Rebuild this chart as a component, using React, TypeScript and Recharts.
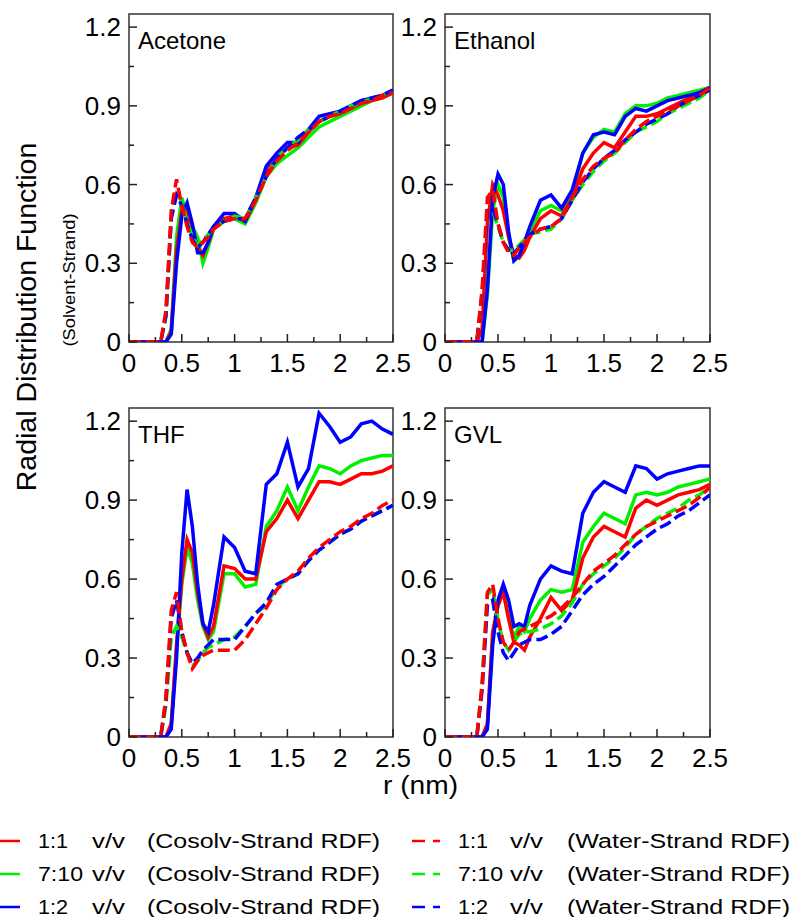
import React from 'react';
import { LineChart, Line, XAxis, YAxis, ReferenceArea } from 'recharts';

const FONT = '"Liberation Sans", Arial, Helvetica, sans-serif';

// r grid (nm) shared by every series
const rGrid = [0, 0.3, 0.35, 0.4, 0.45, 0.5, 0.55, 0.6, 0.65, 0.7, 0.75, 0.8, 0.9, 1.0, 1.1, 1.2, 1.3, 1.4, 1.5, 1.6, 1.7, 1.8, 1.9, 2.0, 2.1, 2.2, 2.3, 2.4, 2.5];

// Acetone
const acetoneCo11 = [0, 0, 0, 0.04, 0.35, 0.5, 0.5, 0.43, 0.36, 0.33, 0.38, 0.43, 0.47, 0.48, 0.46, 0.54, 0.65, 0.7, 0.74, 0.75, 0.8, 0.84, 0.86, 0.87, 0.89, 0.91, 0.92, 0.93, 0.95];
const acetoneCo710 = [0, 0, 0, 0.05, 0.4, 0.55, 0.48, 0.44, 0.4, 0.3, 0.36, 0.43, 0.46, 0.47, 0.45, 0.53, 0.63, 0.68, 0.71, 0.74, 0.78, 0.82, 0.84, 0.86, 0.88, 0.9, 0.92, 0.93, 0.95];
const acetoneCo12 = [0, 0, 0, 0.03, 0.3, 0.48, 0.53, 0.45, 0.34, 0.34, 0.38, 0.44, 0.49, 0.49, 0.46, 0.55, 0.67, 0.72, 0.76, 0.76, 0.81, 0.86, 0.87, 0.88, 0.9, 0.92, 0.93, 0.94, 0.96];
const acetoneW11 = [0, 0, 0.12, 0.5, 0.62, 0.52, 0.44, 0.38, 0.36, 0.38, 0.4, 0.43, 0.46, 0.47, 0.47, 0.54, 0.63, 0.69, 0.73, 0.76, 0.8, 0.84, 0.86, 0.87, 0.89, 0.91, 0.92, 0.94, 0.95];
const acetoneW710 = [0, 0, 0.1, 0.48, 0.58, 0.53, 0.46, 0.4, 0.37, 0.39, 0.41, 0.43, 0.46, 0.48, 0.47, 0.55, 0.63, 0.7, 0.74, 0.77, 0.81, 0.84, 0.86, 0.88, 0.9, 0.91, 0.93, 0.94, 0.96];
const acetoneW12 = [0, 0, 0.1, 0.47, 0.56, 0.52, 0.45, 0.39, 0.36, 0.38, 0.41, 0.44, 0.46, 0.47, 0.47, 0.55, 0.63, 0.7, 0.74, 0.78, 0.81, 0.84, 0.86, 0.88, 0.9, 0.92, 0.93, 0.94, 0.96];

// Ethanol
const ethanolCo11 = [0, 0, 0.05, 0.45, 0.6, 0.56, 0.5, 0.4, 0.33, 0.32, 0.35, 0.4, 0.47, 0.5, 0.48, 0.55, 0.66, 0.72, 0.76, 0.74, 0.8, 0.86, 0.86, 0.87, 0.89, 0.91, 0.93, 0.95, 0.97];
const ethanolCo710 = [0, 0, 0, 0.18, 0.5, 0.6, 0.55, 0.4, 0.31, 0.33, 0.38, 0.42, 0.5, 0.52, 0.5, 0.56, 0.72, 0.78, 0.81, 0.8, 0.87, 0.9, 0.9, 0.91, 0.93, 0.94, 0.95, 0.96, 0.97];
const ethanolCo12 = [0, 0, 0, 0.2, 0.55, 0.64, 0.6, 0.42, 0.31, 0.33, 0.38, 0.44, 0.54, 0.56, 0.51, 0.58, 0.72, 0.79, 0.8, 0.79, 0.86, 0.89, 0.88, 0.9, 0.92, 0.93, 0.94, 0.95, 0.97];
const ethanolW11 = [0, 0, 0.2, 0.55, 0.58, 0.45, 0.38, 0.34, 0.33, 0.36, 0.38, 0.4, 0.43, 0.44, 0.47, 0.55, 0.62, 0.67, 0.7, 0.72, 0.77, 0.81, 0.84, 0.86, 0.88, 0.9, 0.92, 0.94, 0.97];
const ethanolW710 = [0, 0, 0.18, 0.5, 0.5, 0.44, 0.38, 0.35, 0.35, 0.37, 0.39, 0.41, 0.42, 0.43, 0.47, 0.54, 0.6, 0.65, 0.69, 0.72, 0.76, 0.8, 0.82, 0.84, 0.87, 0.89, 0.91, 0.93, 0.96];
const ethanolW12 = [0, 0, 0.18, 0.5, 0.51, 0.45, 0.38, 0.35, 0.34, 0.36, 0.39, 0.41, 0.43, 0.44, 0.47, 0.54, 0.61, 0.66, 0.7, 0.73, 0.77, 0.8, 0.83, 0.85, 0.87, 0.9, 0.92, 0.94, 0.96];

// THF
const thfCo11 = [0, 0, 0, 0.05, 0.35, 0.6, 0.75, 0.7, 0.55, 0.43, 0.38, 0.42, 0.65, 0.64, 0.6, 0.6, 0.78, 0.83, 0.9, 0.83, 0.9, 0.97, 0.97, 0.96, 0.98, 1.0, 1.0, 1.01, 1.03];
const thfCo710 = [0, 0, 0, 0.05, 0.33, 0.58, 0.72, 0.66, 0.52, 0.42, 0.37, 0.4, 0.62, 0.62, 0.57, 0.58, 0.8, 0.86, 0.95, 0.86, 0.95, 1.03, 1.02, 1.0, 1.03, 1.05, 1.06, 1.07, 1.07];
const thfCo12 = [0, 0, 0, 0.03, 0.3, 0.7, 0.94, 0.8, 0.58, 0.43, 0.4, 0.5, 0.76, 0.72, 0.63, 0.62, 0.96, 1.0, 1.12, 0.95, 1.02, 1.23, 1.18, 1.12, 1.14, 1.19, 1.2, 1.17, 1.15];
const thfW11 = [0, 0, 0.15, 0.48, 0.55, 0.4, 0.32, 0.26, 0.29, 0.31, 0.32, 0.33, 0.33, 0.33, 0.37, 0.43, 0.49, 0.56, 0.6, 0.63, 0.68, 0.72, 0.75, 0.78, 0.8, 0.83, 0.85, 0.88, 0.9];
const thfW710 = [0, 0, 0.12, 0.38, 0.42, 0.38, 0.32, 0.27, 0.29, 0.32, 0.34, 0.35, 0.37, 0.38, 0.42, 0.47, 0.5, 0.57, 0.6, 0.62, 0.67, 0.71, 0.74, 0.77, 0.79, 0.82, 0.84, 0.86, 0.88];
const thfW12 = [0, 0, 0.14, 0.45, 0.52, 0.4, 0.32, 0.28, 0.3, 0.33, 0.35, 0.37, 0.37, 0.37, 0.42, 0.47, 0.51, 0.58, 0.6, 0.62, 0.67, 0.71, 0.74, 0.77, 0.79, 0.82, 0.84, 0.86, 0.88];

// GVL
const gvlCo11 = [0, 0, 0, 0.05, 0.4, 0.5, 0.55, 0.45, 0.36, 0.35, 0.33, 0.38, 0.45, 0.53, 0.48, 0.52, 0.68, 0.76, 0.8, 0.78, 0.76, 0.87, 0.9, 0.88, 0.9, 0.92, 0.93, 0.94, 0.96];
const gvlCo710 = [0, 0, 0, 0.05, 0.38, 0.5, 0.55, 0.45, 0.38, 0.42, 0.4, 0.45, 0.52, 0.56, 0.55, 0.56, 0.74, 0.8, 0.85, 0.83, 0.81, 0.92, 0.93, 0.92, 0.93, 0.95, 0.96, 0.97, 0.98];
const gvlCo12 = [0, 0, 0, 0.03, 0.35, 0.52, 0.58, 0.52, 0.42, 0.43, 0.42, 0.5, 0.6, 0.65, 0.63, 0.62, 0.85, 0.93, 0.97, 0.95, 0.93, 1.03, 1.02, 0.98, 1.0, 1.01, 1.02, 1.03, 1.03];
const gvlW11 = [0, 0, 0.2, 0.55, 0.58, 0.45, 0.36, 0.33, 0.36, 0.4, 0.41, 0.42, 0.44, 0.46, 0.49, 0.53, 0.58, 0.63, 0.66, 0.69, 0.73, 0.77, 0.8, 0.82, 0.84, 0.86, 0.88, 0.91, 0.95];
const gvlW710 = [0, 0, 0.2, 0.54, 0.56, 0.44, 0.36, 0.33, 0.36, 0.39, 0.4, 0.4, 0.41, 0.43, 0.46, 0.51, 0.58, 0.62, 0.65, 0.68, 0.72, 0.77, 0.8, 0.83, 0.85, 0.87, 0.9, 0.92, 0.95];
const gvlW12 = [0, 0, 0.18, 0.5, 0.52, 0.4, 0.32, 0.29, 0.32, 0.35, 0.36, 0.37, 0.37, 0.39, 0.42, 0.48, 0.54, 0.58, 0.61, 0.65, 0.69, 0.73, 0.76, 0.79, 0.81, 0.84, 0.86, 0.89, 0.92];

const xTicks = [0, 0.25, 0.5, 0.75, 1, 1.25, 1.5, 1.75, 2, 2.25, 2.5];
const xLabels = [0, 0.5, 1, 1.5, 2, 2.5];
const yTicks = [0, 0.15, 0.3, 0.45, 0.6, 0.75, 0.9, 1.05, 1.2];
const yLabels = [0, 0.3, 0.6, 0.9, 1.2];

const RED = '#ff0000';
const GREEN = '#00f000';
const BLUE = '#0000ff';

const buildRows = (c11: number[], c710: number[], c12: number[], w11: number[], w710: number[], w12: number[]) =>
  rGrid.map((r, i) => ({ r, c11: c11[i], c710: c710[i], c12: c12[i], w11: w11[i], w710: w710[i], w12: w12[i] }));

const isIn = (list: number[], v: number) => list.some((t) => Math.abs(t - v) < 1e-6);

const XTick = (props: any) => {
  const { x, y, payload } = props;
  const major = isIn(xLabels, payload.value);
  return (
    <g>
      <line x1={x} x2={x} y1={y} y2={y - (major ? 8 : 5)} stroke="#222" strokeWidth={1.5} />
      {major && (
        <text x={x} y={y + 30} textAnchor="middle" fontSize={26} fontFamily={FONT} fill="#000">
          {String(payload.value)}
        </text>
      )}
    </g>
  );
};

const YTick = (props: any) => {
  const { x, y, payload } = props;
  const major = isIn(yLabels, payload.value);
  return (
    <g>
      <line x1={x} x2={x + (major ? 8 : 5)} y1={y} y2={y} stroke="#222" strokeWidth={1.5} />
      {major && (
        <text x={x - 8} y={y + 9} textAnchor="end" fontSize={26} fontFamily={FONT} fill="#000">
          {String(payload.value)}
        </text>
      )}
    </g>
  );
};

const Panel = ({ data, left, top, width, height }: { data: any[]; left: number; top: number; width: number; height: number }) => (
  <div style={{ position: 'absolute', left: left - 60, top: top - 10 }}>
    <LineChart width={width + 90} height={height + 55} data={data} margin={{ top: 10, right: 30, bottom: 0, left: 0 }}>
      <XAxis
        dataKey="r"
        type="number"
        domain={[0, 2.5]}
        ticks={xTicks}
        interval={0}
        allowDataOverflow
        axisLine={false}
        tickLine={false}
        tickSize={0}
        tickMargin={0}
        height={45}
        tick={<XTick />}
      />
      <YAxis
        type="number"
        domain={[0, 1.25]}
        ticks={yTicks}
        interval={0}
        allowDataOverflow
        axisLine={false}
        tickLine={false}
        tickSize={0}
        tickMargin={0}
        width={60}
        tick={<YTick />}
      />
      <Line type="linear" dataKey="c710" stroke={GREEN} strokeWidth={3.5} dot={false} isAnimationActive={false} />
      <Line type="linear" dataKey="c11" stroke={RED} strokeWidth={3.5} dot={false} isAnimationActive={false} />
      <Line type="linear" dataKey="c12" stroke={BLUE} strokeWidth={3.5} dot={false} isAnimationActive={false} />
      <Line type="linear" dataKey="w710" stroke={GREEN} strokeWidth={3.5} strokeDasharray="12 5" dot={false} isAnimationActive={false} />
      <Line type="linear" dataKey="w12" stroke={BLUE} strokeWidth={3.5} strokeDasharray="12 5" dot={false} isAnimationActive={false} />
      <Line type="linear" dataKey="w11" stroke={RED} strokeWidth={3.5} strokeDasharray="12 5" dot={false} isAnimationActive={false} />
      <ReferenceArea x1={0} x2={2.5} y1={0} y2={1.25} fill="none" stroke="#333" strokeWidth={1.5} />
    </LineChart>
  </div>
);

const panels = [
  { name: 'Acetone', data: buildRows(acetoneCo11, acetoneCo710, acetoneCo12, acetoneW11, acetoneW710, acetoneW12), left: 129, top: 14, width: 264, height: 328 },
  { name: 'Ethanol', data: buildRows(ethanolCo11, ethanolCo710, ethanolCo12, ethanolW11, ethanolW710, ethanolW12), left: 445, top: 14, width: 265, height: 328 },
  { name: 'THF', data: buildRows(thfCo11, thfCo710, thfCo12, thfW11, thfW710, thfW12), left: 129, top: 408, width: 264, height: 329 },
  { name: 'GVL', data: buildRows(gvlCo11, gvlCo710, gvlCo12, gvlW11, gvlW710, gvlW12), left: 445, top: 408, width: 265, height: 329 },
];

const ratios = ['1:1', '7:10', '1:2'];
const ratioWidths = [30, 45, 30];
const colors = [RED, GREEN, BLUE];
const rowY = [841, 874, 907];

export default function App() {
  return (
    <div style={{ position: 'absolute', left: 0, top: 0, width: 794, height: 917, background: '#fff', fontFamily: FONT }}>
      {panels.map((p) => (
        <Panel key={p.name} data={p.data} left={p.left} top={p.top} width={p.width} height={p.height} />
      ))}
      <svg width={794} height={917} style={{ position: 'absolute', left: 0, top: 0, pointerEvents: 'none' }} fontFamily={FONT}>
        {panels.map((p) => (
          <text key={p.name} x={p.left + 9} y={p.top + 35} fontSize={24} fill="#000">
            {p.name}
          </text>
        ))}
        <text transform="translate(36,317) rotate(-90)" textAnchor="middle" fontSize={28.5} fill="#000">
          Radial Distribution Function
        </text>
        <text transform="translate(75,280) rotate(-90)" textAnchor="middle" fontSize={17} textLength={133} lengthAdjust="spacingAndGlyphs" fill="#000">
          (Solvent-Strand)
        </text>
        <text x={383} y={794} fontSize={25} textLength={75} lengthAdjust="spacingAndGlyphs" fill="#000">
          r (nm)
        </text>
        {ratios.map((ratio, i) => (
          <g key={ratio}>
            <line x1={0} x2={20} y1={rowY[i]} y2={rowY[i]} stroke={colors[i]} strokeWidth={2.5} />
            <text x={38} y={rowY[i] + 7} fontSize={20} textLength={ratioWidths[i]} lengthAdjust="spacingAndGlyphs">{ratio}</text>
            <text x={92} y={rowY[i] + 7} fontSize={20} textLength={33} lengthAdjust="spacingAndGlyphs">v/v</text>
            <text x={147} y={rowY[i] + 7} fontSize={20} textLength={233} lengthAdjust="spacingAndGlyphs">(Cosolv-Strand RDF)</text>
            <line x1={412} x2={440} y1={rowY[i]} y2={rowY[i]} stroke={colors[i]} strokeWidth={2.5} strokeDasharray="13 8" />
            <text x={458} y={rowY[i] + 7} fontSize={20} textLength={ratioWidths[i]} lengthAdjust="spacingAndGlyphs">{ratio}</text>
            <text x={510} y={rowY[i] + 7} fontSize={20} textLength={33} lengthAdjust="spacingAndGlyphs">v/v</text>
            <text x={567} y={rowY[i] + 7} fontSize={20} textLength={223} lengthAdjust="spacingAndGlyphs">(Water-Strand RDF)</text>
          </g>
        ))}
      </svg>
    </div>
  );
}
